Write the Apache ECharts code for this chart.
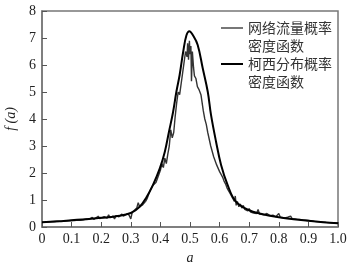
<!DOCTYPE html>
<html>
<head>
<meta charset="utf-8">
<script src="https://cdn.jsdelivr.net/npm/echarts@6/dist/echarts.min.js"></script>
<style>
  html, body { margin: 0; padding: 0; background: #fff; }
  #main { width: 355px; height: 262px; }
</style>
</head>
<body>
<div id="main"></div>
<script>
// network traffic probability density (noisy, gray)
var trafficA = [0, 0.01, 0.02, 0.03, 0.04, 0.05, 0.06, 0.07, 0.08, 0.09, 0.1, 0.11, 0.12, 0.13, 0.14,
  0.15, 0.155, 0.16, 0.17, 0.175, 0.18, 0.19, 0.195, 0.2, 0.21, 0.22, 0.225, 0.23, 0.24, 0.245, 0.25,
  0.26, 0.27, 0.275, 0.28, 0.29, 0.295, 0.3, 0.305, 0.31, 0.32, 0.325, 0.33, 0.34, 0.35, 0.355, 0.36,
  0.365, 0.37, 0.375, 0.38, 0.385, 0.39, 0.395, 0.4, 0.405, 0.41, 0.415, 0.42, 0.425, 0.43, 0.435,
  0.44, 0.445, 0.45, 0.455, 0.46, 0.465, 0.47, 0.475, 0.48, 0.485, 0.49, 0.492, 0.495, 0.498, 0.5,
  0.503, 0.505, 0.508, 0.512, 0.515, 0.52, 0.525, 0.53, 0.537, 0.545, 0.55, 0.555, 0.56, 0.57, 0.58,
  0.59, 0.6, 0.605, 0.61, 0.615, 0.62, 0.625, 0.63, 0.635, 0.64, 0.645, 0.65, 0.653, 0.656, 0.66,
  0.665, 0.67, 0.675, 0.68, 0.685, 0.69, 0.695, 0.7, 0.705, 0.71, 0.715, 0.72, 0.725, 0.73, 0.735,
  0.74, 0.75, 0.76, 0.77, 0.78, 0.79, 0.8, 0.805, 0.81, 0.82, 0.83, 0.84, 0.845, 0.85, 0.86, 0.87,
  0.88, 0.9, 0.92, 0.94, 0.96, 0.98, 1.0];
var trafficVals = [0.17, 0.18, 0.18, 0.19, 0.19, 0.2, 0.21, 0.21, 0.22, 0.23, 0.24, 0.24, 0.26, 0.25, 0.27,
  0.3, 0.26, 0.29, 0.36, 0.28, 0.32, 0.4, 0.31, 0.34, 0.38, 0.33, 0.45, 0.35, 0.4, 0.3, 0.42,
  0.38, 0.48, 0.4, 0.45, 0.5, 0.42, 0.3, 0.55, 0.6, 0.7, 0.9, 0.75, 0.82, 0.95, 1.05, 1.1,
  1.35, 1.3, 1.55, 1.5, 1.65, 1.8, 1.75, 2.1, 2.35, 2.2, 2.55, 2.35, 2.7, 3.0, 3.6,
  3.3, 3.5, 4.1, 4.6, 5.0, 4.9, 5.3, 5.7, 6.1, 6.5, 6.3, 6.8, 6.2, 6.9, 6.4,
  6.7, 5.4, 6.5, 5.9, 5.6, 5.5, 5.2, 5.1, 4.9, 4.3, 4.0, 3.8, 3.5, 3.0, 2.6,
  2.3, 2.05, 2.0, 1.85, 1.7, 1.6, 1.45, 1.35, 1.25, 1.2, 1.05, 0.95, 1.15, 0.8, 0.95,
  0.75, 0.85, 0.7, 0.8, 0.65, 0.72, 0.6, 0.68, 0.55, 0.62, 0.52, 0.58, 0.5, 0.65, 0.48,
  0.52, 0.45, 0.5, 0.42, 0.44, 0.38, 0.5, 0.36, 0.38, 0.34, 0.36, 0.4, 0.31, 0.3, 0.29, 0.28,
  0.26, 0.24, 0.21, 0.19, 0.17, 0.16, 0.14];

// Cauchy distribution probability density (smooth, black)
var cauchyA = [0, 0.05, 0.1, 0.15, 0.2, 0.25, 0.3, 0.33, 0.353, 0.375, 0.398, 0.415, 0.429, 0.443,
  0.454, 0.465, 0.477, 0.488, 0.498, 0.51, 0.526, 0.543, 0.56, 0.571, 0.588, 0.605, 0.627, 0.655,
  0.7, 0.735, 0.8, 0.85, 0.9, 0.95, 1.0];
var cauchyVals = [0.18, 0.21, 0.25, 0.29, 0.34, 0.4, 0.52, 0.75, 1.1, 1.56, 2.17, 2.79, 3.53, 4.27,
  5.01, 5.63, 6.49, 7.1, 7.25, 7.1, 6.74, 5.88, 5.01, 4.15, 3.16, 2.3, 1.56, 0.94,
  0.62, 0.5, 0.36, 0.29, 0.23, 0.18, 0.14];

var seriesNames = ['网络流量概率\n密度函数', '柯西分布概率\n密度函数'];

function zip(xs, ys) {
  var out = [];
  for (var i = 0; i < xs.length; i++) {
    out.push([xs[i], ys[i]]);
  }
  return out;
}

var serif = '"Liberation Serif", "DejaVu Serif", serif';
var cjk = '"Noto Sans CJK SC", sans-serif';
// legend line sits level with the first text line: the invisible moves stretch the icon box
var legendIcon = 'path://M0,0 M0,8 L22,8 L22,10 L0,10 Z M0,36';

var myChart = echarts.init(document.getElementById('main'));
var option = {
  animation: false,
  backgroundColor: '#fff',
  grid: {
    left: 42,
    right: 17,
    top: 11,
    bottom: 35,
    containLabel: false,
    outerBoundsMode: 'none',
    show: true,
    borderColor: '#777',
    borderWidth: 1.5
  },
  legend: {
    orient: 'vertical',
    right: 18,
    top: 14,
    itemWidth: 22,
    itemHeight: 36,
    itemGap: 0,
    icon: legendIcon,
    textStyle: {
      fontFamily: cjk,
      fontSize: 14,
      lineHeight: 18,
      color: '#333'
    },
    data: [
      { name: seriesNames[0], itemStyle: { color: '#777' } },
      { name: seriesNames[1], itemStyle: { color: '#000' } }
    ]
  },
  xAxis: {
    type: 'value',
    min: 0,
    max: 1,
    interval: 0.1,
    name: 'a',
    nameLocation: 'middle',
    nameGap: 21,
    nameTextStyle: { fontFamily: serif, fontStyle: 'italic', fontSize: 14, color: '#222' },
    axisLine: { lineStyle: { color: '#777', width: 1.5 } },
    axisTick: { inside: true, length: 5, lineStyle: { color: '#555' } },
    axisLabel: {
      fontFamily: serif,
      fontSize: 14,
      color: '#222',
      margin: 5,
      formatter: function(v) {
        return v === 0 ? '0' : v.toFixed(1);
      }
    },
    splitLine: { show: false }
  },
  yAxis: {
    type: 'value',
    min: 0,
    max: 8,
    interval: 1,
    name: 'f (a)',
    nameLocation: 'middle',
    nameGap: 24,
    nameTextStyle: { fontFamily: serif, fontStyle: 'italic', fontSize: 14, color: '#222' },
    axisLine: { lineStyle: { color: '#777', width: 1.5 } },
    axisTick: { inside: true, length: 5, lineStyle: { color: '#555' } },
    axisLabel: { fontFamily: serif, fontSize: 14, color: '#222', margin: 6 },
    splitLine: { show: false }
  },
  series: [
    {
      name: seriesNames[0],
      type: 'line',
      showSymbol: false,
      data: zip(trafficA, trafficVals),
      lineStyle: { color: '#333', width: 1.4 },
      itemStyle: { color: '#777' },
      z: 2
    },
    {
      name: seriesNames[1],
      type: 'line',
      smooth: 0.4,
      showSymbol: false,
      data: zip(cauchyA, cauchyVals),
      lineStyle: { color: '#000', width: 2 },
      itemStyle: { color: '#000' },
      z: 3
    }
  ]
};
myChart.setOption(option);
</script>
</body>
</html>
